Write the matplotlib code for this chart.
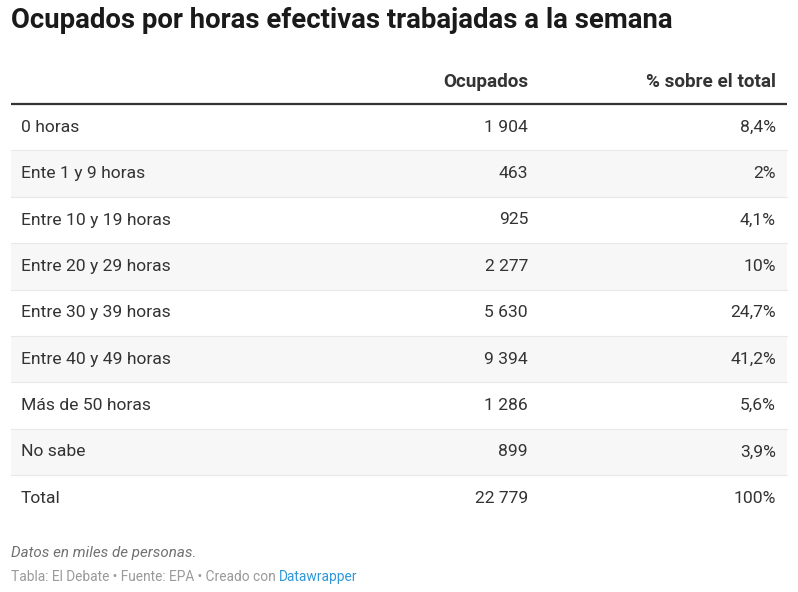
import matplotlib
matplotlib.use("Agg")
import matplotlib.pyplot as plt
from matplotlib.patches import Rectangle

plt.rcParams['font.family'] = ['Roboto', 'DejaVu Sans']

title = "Ocupados por horas efectivas trabajadas a la semana"
headers = ["Ocupados", "% sobre el total"]
categories = ["0 horas", "Ente 1 y 9 horas", "Entre 10 y 19 horas", "Entre 20 y 29 horas",
              "Entre 30 y 39 horas", "Entre 40 y 49 horas", "Más de 50 horas", "No sabe", "Total"]
ocupados = [1904, 463, 925, 2277, 5630, 9394, 1286, 899, 22779]
porcentajes = [8.4, 2, 4.1, 10, 24.7, 41.2, 5.6, 3.9, 100]
note = "Datos en miles de personas."
source = "Tabla: El Debate • Fuente: EPA • Creado con "
source_link = "Datawrapper"


def fmt_int(v):
    return f"{v:,}".replace(",", " ")


def fmt_pct(v):
    s = f"{v:g}".replace(".", ",")
    return s + "%"


W, H = 798, 592
fig = plt.figure(figsize=(W / 100, H / 100), dpi=100)
ax = fig.add_axes([0, 0, 1, 1])
ax.set_xlim(0, W)
ax.set_ylim(H, 0)
ax.axis("off")

left, right = 11, 787
col_label_x = 21
col1_x = 528
col2_x = 776
row_top = 104
row_h = 46.4
body_fs = 12.6
head_fs = 13.6

ax.text(left, 20, title, fontsize=19.8, fontweight="bold", color="#1a1a1a",
        ha="left", va="center")

ax.text(col1_x, 82, headers[0], fontsize=head_fs, fontweight="bold", color="#333333",
        ha="right", va="center")
ax.text(col2_x, 82, headers[1], fontsize=head_fs, fontweight="bold", color="#333333",
        ha="right", va="center")
ax.plot([left, right], [103.5, 103.5], color="#333333", lw=1.6, solid_capstyle="butt")

for i, (cat, o, p) in enumerate(zip(categories, ocupados, porcentajes)):
    y0 = row_top + i * row_h
    if i % 2 == 1:
        ax.add_patch(Rectangle((left, y0), right - left, row_h, facecolor="#f7f7f7",
                               edgecolor="none", zorder=0))
    if i > 0:
        ax.plot([left, right], [y0, y0], color="#e8e8e8", lw=0.8, zorder=1)
    yc = y0 + row_h / 2
    ax.text(col_label_x, yc, cat, fontsize=body_fs, color="#333333", ha="left", va="center")
    ax.text(col1_x, yc, fmt_int(o), fontsize=body_fs, color="#333333", ha="right", va="center")
    ax.text(col2_x, yc, fmt_pct(p), fontsize=body_fs, color="#333333", ha="right", va="center")

ax.text(left, 553, note, fontsize=10.9, style="italic", color="#707070", ha="left", va="center")
t = ax.text(left, 577, source, fontsize=9.9, color="#9a9a9a", ha="left", va="center")
fig.canvas.draw()
bb = t.get_window_extent()
x_end = ax.transData.inverted().transform((bb.x1, bb.y0))[0]
ax.text(x_end, 577, source_link, fontsize=9.9, color="#2e98d8", ha="left", va="center")

fig.savefig("out.png", dpi=100)
